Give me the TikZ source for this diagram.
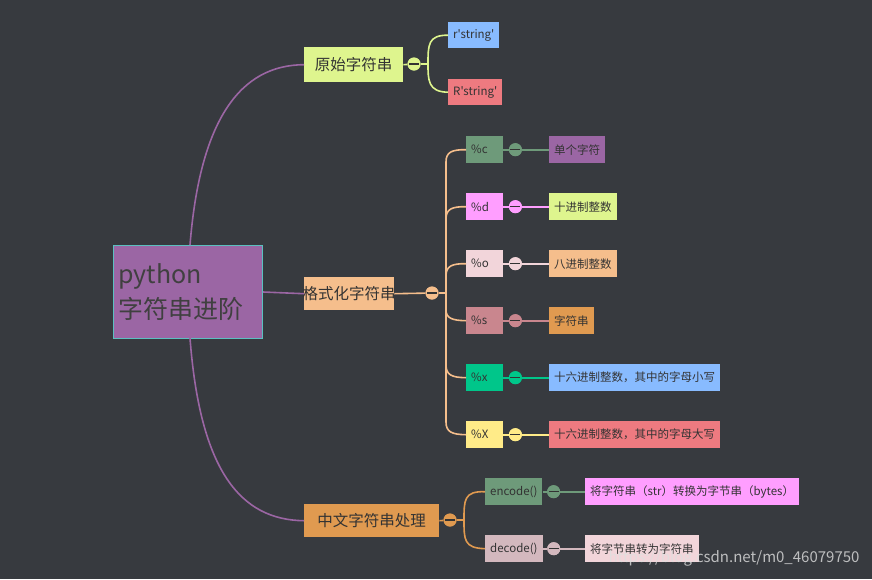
\documentclass[tikz,border=0pt]{standalone}
\usepackage{fontspec}
\setmainfont{Noto Sans CJK SC}[Ligatures=TeXOff]
\begin{document}
\begin{tikzpicture}[x=1pt,y=-1pt,
 box/.style={anchor=north west,inner xsep=5pt,inner ysep=0pt,minimum height=27pt,text=black!80,font=\fontsize{11.5}{13}\selectfont},
 col/.style={circle,minimum size=13pt,inner sep=0pt},
 ln/.style={line width=1.6pt},
 big/.style={text=black!80,font=\fontsize{15.5}{18}\selectfont}]
\definecolor{bg}{HTML}{373A3F}
\definecolor{cpur}{HTML}{9B66A4}\definecolor{cyel}{HTML}{DEF58E}\definecolor{cblu}{HTML}{88BBFF}
\definecolor{cred}{HTML}{EE7A80}\definecolor{cora}{HTML}{F5BE8C}\definecolor{cgrn}{HTML}{6E9A7A}
\definecolor{cpnk}{HTML}{FF9EFF}\definecolor{clpk}{HTML}{F2D5DA}\definecolor{cros}{HTML}{C9868E}
\definecolor{cdor}{HTML}{E09A50}\definecolor{cteal}{HTML}{00C68A}\definecolor{clye}{HTML}{FFEB88}
\definecolor{cmau}{HTML}{D3B8BE}\definecolor{cbor}{HTML}{5BC0C0}
\fill[bg] (0,0) rectangle (872,579);
\useasboundingbox (0,0) rectangle (872,579);
% root
\node[draw=cbor,line width=1pt,fill=cpur,anchor=north west,minimum width=149pt,minimum height=93pt,inner sep=0pt] (root) at (113,245) {};
\node[anchor=west,align=left,text=black!75,font=\fontsize{25}{35}\selectfont] (rt) at (115,292) {python\\字符串进阶};
% level 1
\node[anchor=north west,fill=cyel,minimum width=99pt,minimum height=35pt,inner sep=0pt] (a) at (304,47) {};
\node[big] (at) at (a.center) {原始字符串};
\node[anchor=north west,fill=cora,minimum width=90pt,minimum height=33pt,inner sep=0pt] (b) at (304,277) {};
\node[big] (bt) at (b.center) {格式化字符串};
\node[anchor=north west,fill=cdor,minimum width=135pt,minimum height=33pt,inner sep=0pt] (c) at (304,504) {};
\node[big] (ct) at (c.center) {中文字符串处理};
\draw[cpur,ln] (190,245) .. controls (200,120) and (240,65) .. (a.west);
\draw[cpur,ln] (root.east) -- (b.west);
\draw[cpur,ln] (190,338) .. controls (200,470) and (240,520) .. (c.west);
% a children
\node[box,fill=cblu,minimum height=26pt] (a1) at (448,22) {r'string'};
\node[box,fill=cred,minimum height=26pt] (a2) at (448,79) {R'string'};
\node[col,fill=cyel] (ca) at (414,64) {};
\draw[cyel,ln] (a.east) -- (ca);
\draw[cyel,ln] (ca) -- (428,64);
\draw[cyel,ln] (a1.west) .. controls (428,35) and (428,45) .. (428,64) .. controls (428,80) and (428,92) .. (a2.west);
\node[col,fill=cyel] at (ca) {};
\draw[black!80,line width=1.4pt] (409,64) -- (419,64);
% b children
\node[col,fill=cora] (cb) at (432,293) {};
\draw[cora,ln] (b.east) -- (cb);
\draw[cora,ln] (cb.east) -- (446,293);
\node[col,fill=cora] at (cb) {};
\draw[black!80,line width=1.4pt] (427,293) -- (437,293);
\foreach \n/\y/\f/\t in {1/136/cgrn/\%c, 2/193/cpnk/\%d, 3/250/clpk/\%o, 4/307/cros/\%s, 5/364/cteal/\%x, 6/421/clye/\%X}{
 \node[box,fill=\f,minimum width=37pt,text width=27pt,align=left] (p\n) at (466,\y) {\t};
}
\node[box,fill=cpur] (q1) at (549,136) {单个字符};
\node[box,fill=cyel] (q2) at (549,193) {十进制整数};
\node[box,fill=cora] (q3) at (549,250) {八进制整数};
\node[box,fill=cdor] (q4) at (549,307) {字符串};
\node[box,fill=cblu] (q5) at (549,364) {十六进制整数，其中的字母小写};
\node[box,fill=cred] (q6) at (549,421) {十六进制整数，其中的字母大写};
\draw[cora,ln] (446,293) -- (446,162) .. controls (446,152) and (452,149.5) .. (p1.west);
\draw[cora,ln] (446,293) -- (446,219) .. controls (446,209) and (452,206.5) .. (p2.west);
\draw[cora,ln] (446,293) -- (446,276) .. controls (446,266) and (452,263.5) .. (p3.west);
\draw[cora,ln] (446,293) -- (446,310) .. controls (446,318) and (452,320.5) .. (p4.west);
\draw[cora,ln] (446,293) -- (446,365) .. controls (446,375) and (452,377.5) .. (p5.west);
\draw[cora,ln] (446,293) -- (446,422) .. controls (446,432) and (452,434.5) .. (p6.west);
\foreach \n/\f in {1/cgrn,2/cpnk,3/clpk,4/cros,5/cteal,6/clye}{
 \node[col,fill=\f] (k\n) at ([xshift=12pt]p\n.east) {};
 \draw[\f,ln] (p\n.east) -- (k\n) -- (q\n.west);
 \node[col,fill=\f] at (k\n) {};
 \draw[black!80,line width=1.4pt] ([xshift=-5pt]k\n.center) -- ([xshift=5pt]k\n.center);
}
% c children
\node[col,fill=cdor] (cc) at (450,520) {};
\draw[cdor,ln] (c.east) -- (cc) -- (464,520);
\node[col,fill=cdor] at (cc) {};
\draw[black!80,line width=1.4pt] (445,520) -- (455,520);
\node[box,fill=cgrn,minimum width=54pt] (e1) at (485,478) {encode()};
\node[box,fill=cmau,minimum width=54pt] (e2) at (485,535) {decode()};
\node[box,fill=cpnk] (f1) at (585,478) {将字符串（str）转换为字节串（bytes）};
\node[box,fill=clpk] (f2) at (585,535) {将字节串转为字符串};
\draw[cdor,ln] (e1.west) .. controls (464,491) and (464,500) .. (464,520) .. controls (464,540) and (464,548) .. (e2.west);
\foreach \n/\f in {1/cgrn,2/cmau}{
 \node[col,fill=\f] (m\n) at ([xshift=11pt]e\n.east) {};
 \draw[\f,ln] (e\n.east) -- (m\n) -- (f\n.west);
 \node[col,fill=\f] at (m\n) {};
 \draw[black!80,line width=1.4pt] ([xshift=-5pt]m\n.center) -- ([xshift=5pt]m\n.center);
}
\node[anchor=east,text=white!75!gray,opacity=0.8,font=\fontsize{15}{17}\selectfont] (wm) at (863,558) {https://blog.csdn.net/m0\_46079750};
\end{tikzpicture}
\end{document}
